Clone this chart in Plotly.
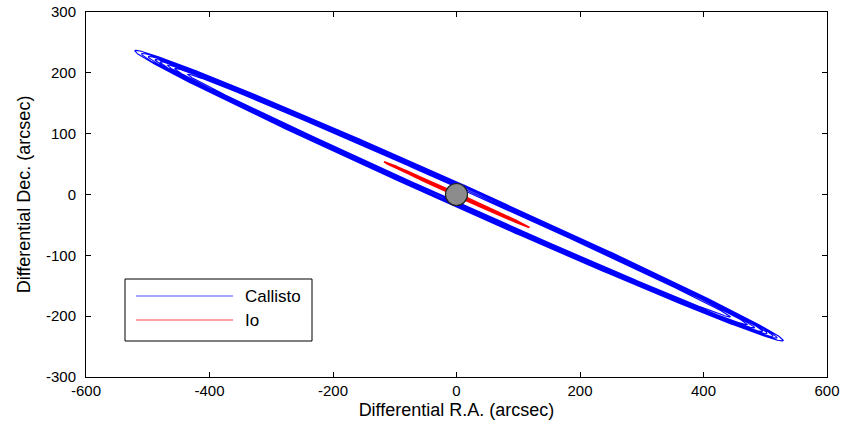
import numpy as np
import plotly.graph_objects as go

# ---- data (arcsec) ----
# Callisto: one entry per orbit loop; extents of each loop along the major axis
callisto_left_extent = [572, 560, 548, 536, 527, 514, 501, 478]
callisto_right_extent = [581, 570, 563, 552, 544, 530, 517, 487]
callisto_half_width = [19, 18, 17, 16, 15, 13.5, 12.5, 11]
callisto_tilt_deg = 24.4

# Io: one entry per orbit loop
io_left_extent = [129, 128, 127, 126, 125]
io_right_extent = [130, 129, 128, 127, 126]
io_half_width = [2.8, 2.5, 2.2, 1.9, 1.6]
io_tilt_deg = 24.6

jupiter_x = [0]
jupiter_y = [0]

x_ticks = [-600, -400, -200, 0, 200, 400, 600]
y_ticks = [-300, -200, -100, 0, 100, 200, 300]


def orbit_path(left, right, half_w, tilt_deg, n=900):
    th = np.deg2rad(tilt_deg)
    ux, uy = np.cos(th), -np.sin(th)      # major axis direction (towards lower right)
    vx, vy = np.sin(th), np.cos(th)       # minor axis direction
    xs, ys = [], []
    t = np.linspace(0, 2 * np.pi, n)
    for L, R, b in zip(left, right, half_w):
        a = (L + R) / 2.0
        c = (R - L) / 2.0
        u = c + a * np.sin(t)
        v = b * np.cos(t)
        xs.extend(list(u * ux + v * vx))
        ys.extend(list(u * uy + v * vy))
    return xs, ys


cx, cy = orbit_path(callisto_left_extent, callisto_right_extent, callisto_half_width, callisto_tilt_deg)
ix, iy = orbit_path(io_left_extent, io_right_extent, io_half_width, io_tilt_deg)

fig = go.Figure()
fig.add_trace(go.Scatter(x=cx, y=cy, mode="lines", name="Callisto",
                         line=dict(color="#0000ff", width=1.1), showlegend=False,
                         hoverinfo="skip"))
fig.add_trace(go.Scatter(x=ix, y=iy, mode="lines", name="Io",
                         line=dict(color="#ff0000", width=1.5), showlegend=False,
                         hoverinfo="skip"))
fig.add_trace(go.Scatter(x=jupiter_x, y=jupiter_y, mode="markers", name="Jupiter",
                         marker=dict(size=22, color="#8c8c8c",
                                     line=dict(color="#222222", width=1.2)),
                         showlegend=False, hoverinfo="skip"))

# plot area in pixels: x 86..827, y 12..377
L_PX, R_PX, T_PX, B_PX = 86, 827, 12, 377
W, H = R_PX - L_PX, B_PX - T_PX


def px(xp):
    return (xp - L_PX) / W


def py(yp):
    return 1 - (yp - T_PX) / H


shapes = [
    dict(type="rect", xref="paper", yref="paper", x0=px(125), x1=px(312), y0=py(341), y1=py(279),
         line=dict(color="#000000", width=1), fillcolor="white", layer="above"),
    dict(type="line", xref="paper", yref="paper", x0=px(136), x1=px(233), y0=py(296), y1=py(296),
         line=dict(color="#5050ff", width=1.2), layer="above"),
    dict(type="line", xref="paper", yref="paper", x0=px(136), x1=px(233), y0=py(320), y1=py(320),
         line=dict(color="#ff4040", width=1.2), layer="above"),
]
annotations = [
    dict(text="Callisto", xref="paper", yref="paper", x=px(243), y=py(296), xanchor="left",
         yanchor="middle", showarrow=False, font=dict(size=17, color="#000000")),
    dict(text="Io", xref="paper", yref="paper", x=px(243), y=py(320), xanchor="left",
         yanchor="middle", showarrow=False, font=dict(size=17, color="#000000")),
]

axis_common = dict(showgrid=False, zeroline=False, showline=True, linecolor="#000000",
                   linewidth=1, mirror="ticks", ticks="inside", ticklen=5, tickcolor="#000000",
                   tickfont=dict(size=15, color="#000000"), automargin=False)

fig.update_layout(
    width=842, height=429,
    margin=dict(l=L_PX, r=842 - R_PX, t=T_PX, b=429 - B_PX),
    paper_bgcolor="white", plot_bgcolor="white",
    font=dict(family="Liberation Sans, Arial, Helvetica, sans-serif", color="#000000"),
    shapes=shapes, annotations=annotations,
    xaxis=dict(range=[-600, 600], tickvals=x_ticks, ticktext=[str(v) for v in x_ticks],
               title=dict(text="Differential R.A. (arcsec)", font=dict(size=18), standoff=5),
               **axis_common),
    yaxis=dict(range=[-300, 300], tickvals=y_ticks, ticktext=[str(v) for v in y_ticks],
               title=dict(text="Differential Dec. (arcsec)", font=dict(size=18), standoff=10),
               ticklabelstandoff=6, **axis_common),
)

fig.write_html(
    "out.html",
    config={"displayModeBar": False},
    post_script="document.body.style.margin='0';document.body.style.overflow='hidden';",
)
